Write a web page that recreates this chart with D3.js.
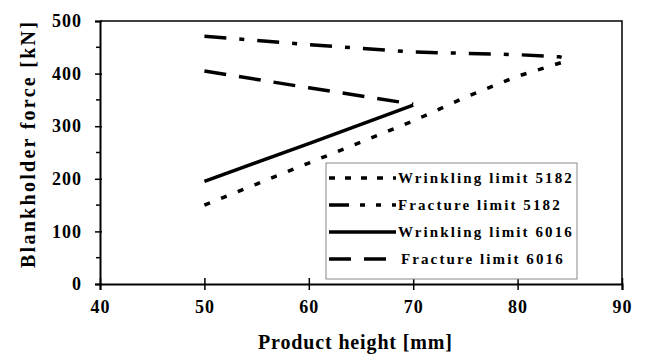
<!DOCTYPE html>
<html>
<head>
<meta charset="utf-8">
<script src="https://cdn.jsdelivr.net/npm/d3@7"></script>
<style>
  body { margin: 0; background: #fff; }
  text { font-family: "Liberation Serif", "Times New Roman", serif; font-weight: bold; fill: #000; }
</style>
</head>
<body>
<script>
// values
const wrink5182X = [50, 55, 60, 65, 70, 75, 80, 85];
const wrink5182Y = [150, 190, 230, 270, 310, 355, 395, 426];
const frac5182X = [50, 60, 70, 80, 84, 85];
const frac5182Y = [471, 455, 441, 436, 432, 426];
const wrink6016X = [50, 60, 70];
const wrink6016Y = [195, 267, 340];
const frac6016X = [50, 60, 70];
const frac6016Y = [405, 373, 342];

const xTicks = [40, 50, 60, 70, 80, 90];
const yTicks = [0, 100, 200, 300, 400, 500];
const yMinor = [50, 150, 250, 350, 450];

const series = [
  { name: 'Wrinkling limit 5182', xs: wrink5182X, ys: wrink5182Y, dash: '6,12', legendDash: '6,10' },
  { name: 'Fracture limit 5182', xs: frac5182X, ys: frac5182Y, dash: '22,13,5,13', legendDash: '20,11,5,11,5,11' },
  { name: 'Wrinkling limit 6016', xs: wrink6016X, ys: wrink6016Y, dash: null, legendDash: null },
  { name: 'Fracture limit 6016', xs: frac6016X, ys: frac6016Y, dash: '22,13', legendDash: '22,13' }
];

const width = 645, height = 356;
const m = { left: 100, right: 23, top: 21, bottom: 72 };

const svg = d3.select('body').append('svg')
  .attr('width', width)
  .attr('height', height);

const x = d3.scaleLinear().domain([40, 90]).range([m.left, width - m.right]);
const y = d3.scaleLinear().domain([0, 500]).range([height - m.bottom, m.top]);

// frame (top and right)
svg.append('path')
  .attr('d', `M${x(40)},${y(500)}H${x(90)}V${y(0)}`)
  .attr('fill', 'none').attr('stroke', '#000').attr('stroke-width', 1.5);

// x axis
const xAxis = svg.append('g')
  .attr('transform', `translate(0,${y(0)})`)
  .call(d3.axisBottom(x).tickValues(xTicks).tickSize(6).tickPadding(10));
xAxis.select('.domain').attr('stroke-width', 2);
xAxis.selectAll('.tick line').attr('y1', -6).attr('stroke-width', 1.5);
xAxis.selectAll('.tick text').style('font-size', '18px').style('letter-spacing', '1px');

// y axis
const yAxis = svg.append('g')
  .attr('transform', `translate(${x(40)},0)`)
  .call(d3.axisLeft(y).tickValues(yTicks).tickSize(5).tickPadding(13));
yAxis.select('.domain').attr('stroke-width', 2);
yAxis.selectAll('.tick line').attr('x1', 2).attr('stroke-width', 1.5);
yAxis.selectAll('.tick text').style('font-size', '18px').style('letter-spacing', '1px');
yAxis.selectAll('.minor')
  .data(yMinor)
  .enter().append('line')
  .attr('x1', -4).attr('x2', 0)
  .attr('y1', d => y(d)).attr('y2', d => y(d))
  .attr('stroke', '#000').attr('stroke-width', 1.5);

// axis titles
svg.append('text')
  .attr('x', 355).attr('y', 349)
  .attr('text-anchor', 'middle')
  .style('font-size', '20px')
  .attr('textLength', 194)
  .text('Product height [mm]');

svg.append('text')
  .attr('transform', 'translate(35,145) rotate(-90)')
  .attr('text-anchor', 'middle')
  .style('font-size', '20px')
  .attr('textLength', 246)
  .text('Blankholder force [kN]');

// lines
const line = d3.line().x(d => x(d[0])).y(d => y(d[1]));
svg.selectAll('.series')
  .data(series)
  .enter().append('path')
  .attr('class', 'series')
  .attr('d', s => line(s.xs.map((v, i) => [v, s.ys[i]])))
  .attr('fill', 'none')
  .attr('stroke', '#000')
  .attr('stroke-width', 3.5)
  .attr('stroke-dasharray', s => s.dash);

// legend
const lg = svg.append('g');
lg.append('rect')
  .attr('x', 326).attr('y', 163)
  .attr('width', 251).attr('height', 116)
  .attr('fill', '#fff')
  .attr('stroke', '#888').attr('stroke-width', 1);

const rows = lg.selectAll('.row')
  .data(series)
  .enter().append('g')
  .attr('transform', (d, i) => `translate(0,${178 + i * 27})`);

rows.append('line')
  .attr('x1', 329).attr('x2', d => d.name === 'Fracture limit 6016' ? 386 : 396)
  .attr('y1', 0).attr('y2', 0)
  .attr('stroke', '#000').attr('stroke-width', 3.5)
  .attr('stroke-dasharray', d => d.legendDash);

rows.append('text')
  .attr('x', d => d.name === 'Fracture limit 6016' ? 401 : 398)
  .attr('y', 5)
  .style('font-size', '15px')
  .style('letter-spacing', '2.1px')
  .text(d => d.name);
</script>
</body>
</html>
